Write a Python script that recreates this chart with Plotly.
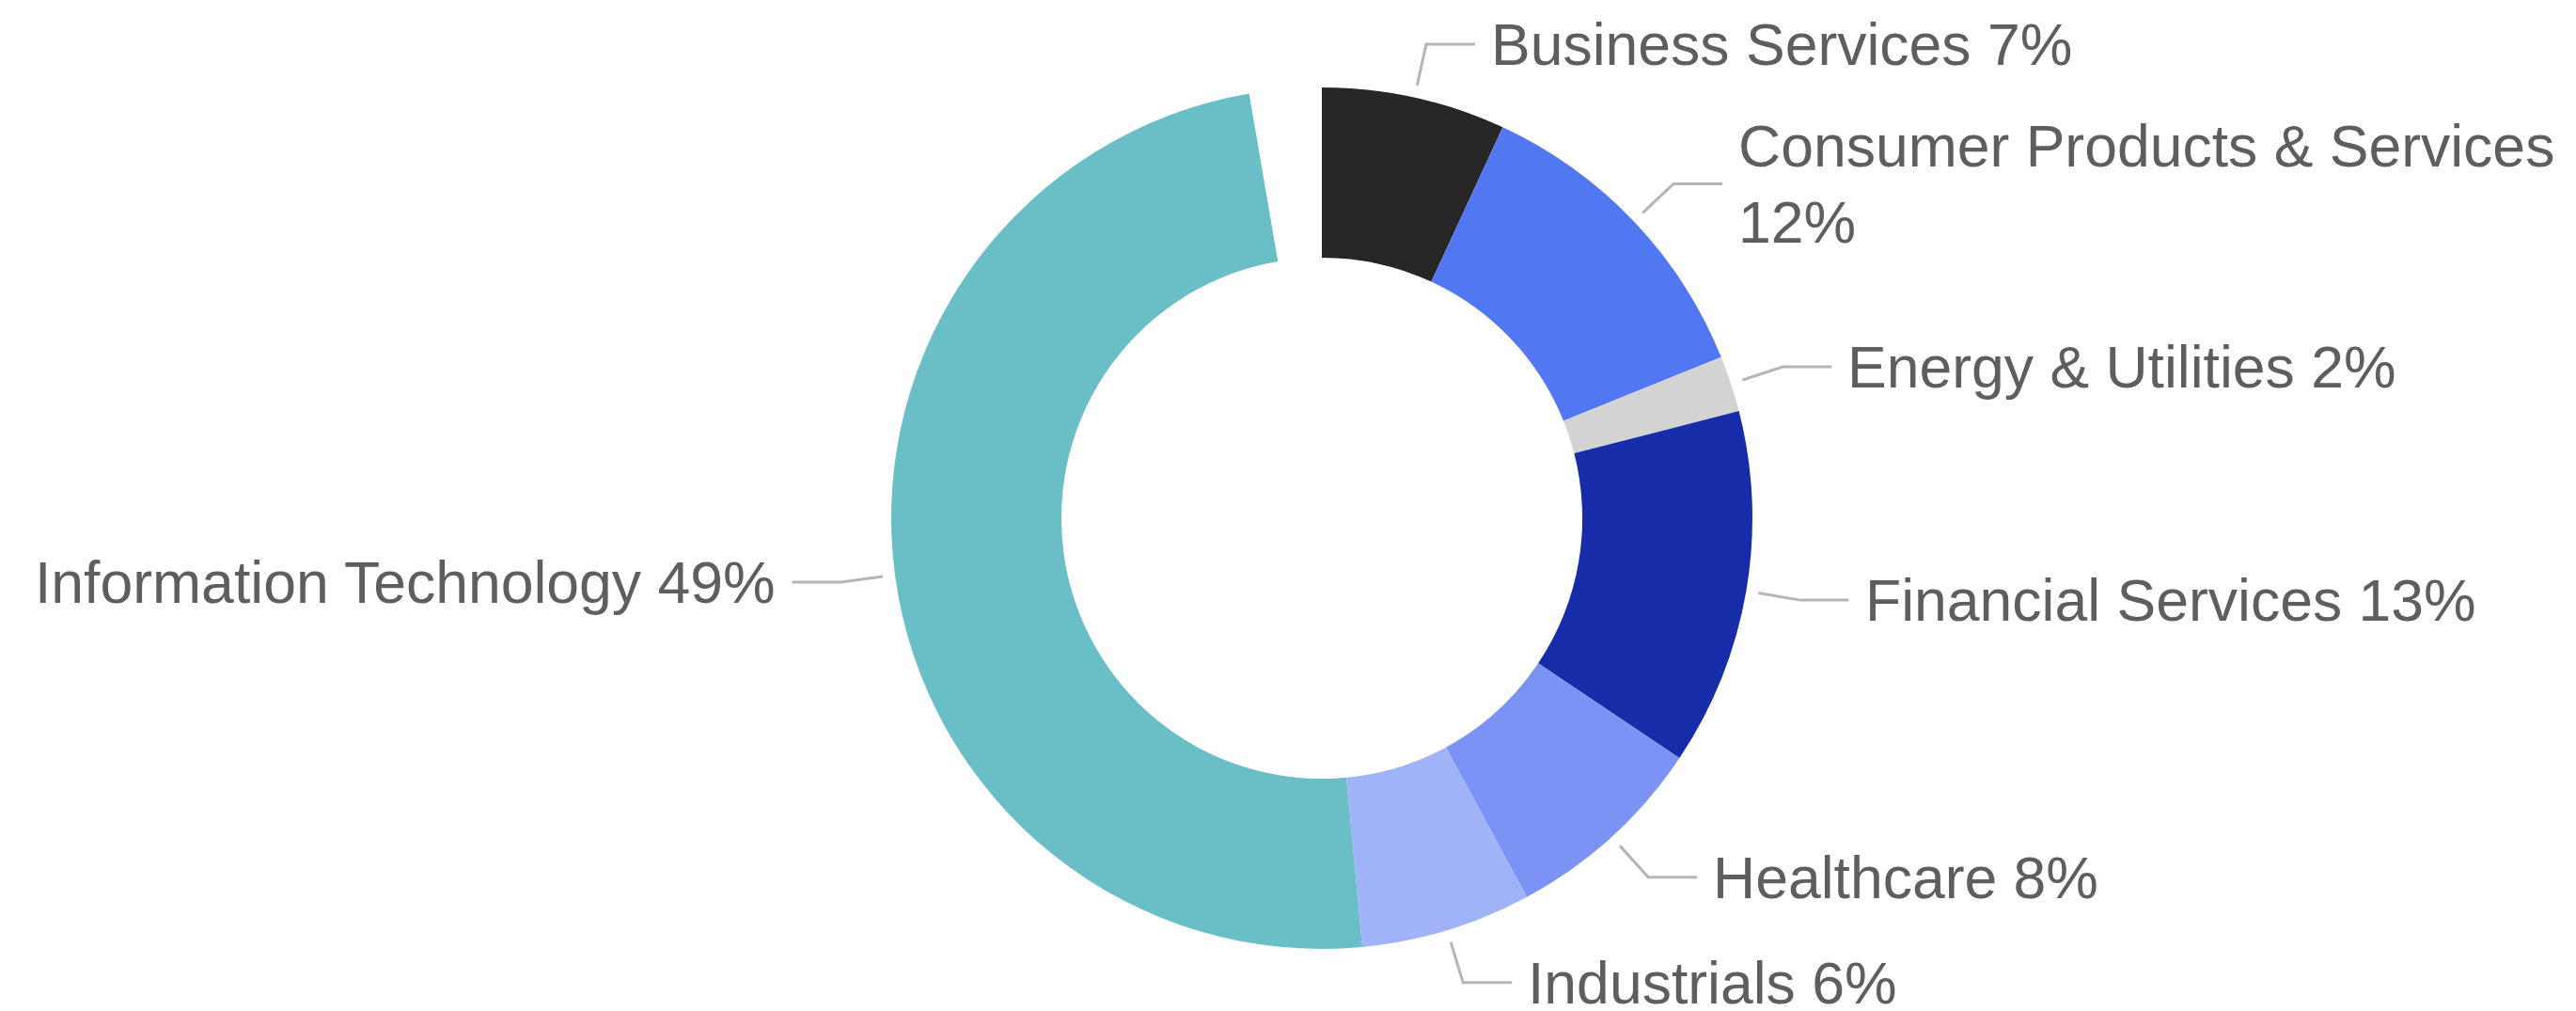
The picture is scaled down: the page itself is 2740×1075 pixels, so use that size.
import math
import plotly.graph_objects as go

# ---------------- data ----------------
categories = [
    "Business Services",
    "Consumer Products & Services",
    "Energy & Utilities",
    "Financial Services",
    "Healthcare",
    "Industrials",
    "Information Technology",
]
shares = [6.9, 12.0, 2.1, 13.4, 7.7, 6.4, 48.8]          # percent of total
colors = ["#262626", "#5277F2", "#D3D3D3", "#162CA8", "#7A93F4", "#A0B3F8", "#6ABFC7"]
wrapped = ["Consumer Products & Services"]              # labels set on two lines
unallocated = round(100 - sum(shares), 1)               # blank gap at the top

# ---------------- layout constants (pixels) ----------------
PAGE_OFFSET = 8               # default body margin of the written page
W, H = 2740 - PAGE_OFFSET, 1075 - PAGE_OFFSET
CX, CY, R = 1406 - PAGE_OFFSET, 551 - PAGE_OFFSET, 458
HOLE = 0.605
R1, R2 = R + 13, R + 58       # leader line: radial segment
H_LEN = 52                    # leader line: horizontal segment
TEXT_GAP = 15
FONT = "Liberation Sans, Arial, Helvetica, sans-serif"
FONT_SIZE = 62.5
TEXT_COLOR = "#5e5e5e"
LINE_COLOR = "#b5b5b5"


def px(x, y):
    return x / W, 1 - y / H


values = shares + [unallocated]
pie_labels = categories + [" "]
pie_colors = colors + ["rgba(0,0,0,0)"]

fig = go.Figure(
    go.Pie(
        labels=pie_labels,
        values=values,
        hole=HOLE,
        sort=False,
        direction="clockwise",
        rotation=0,
        marker=dict(colors=pie_colors, line=dict(width=0)),
        textinfo="none",
        hoverinfo="label+percent",
        showlegend=False,
        domain=dict(
            x=[(CX - R) / W, (CX + R) / W],
            y=[1 - (CY + R) / H, 1 - (CY - R) / H],
        ),
    )
)

total = sum(values)
cum = 0.0
shapes = []
annotations = []
for cat, v in zip(categories, shares):
    mid = (cum + v / 2) / total * 2 * math.pi
    cum += v
    sx, sy = math.sin(mid), -math.cos(mid)
    x1, y1 = CX + R1 * sx, CY + R1 * sy
    x2, y2 = CX + R2 * sx, CY + R2 * sy
    side = 1 if sx >= 0 else -1
    x3 = x2 + side * H_LEN
    p1, p2, p3 = px(x1, y1), px(x2, y2), px(x3, y2)
    shapes.append(dict(
        type="path", xref="paper", yref="paper",
        path=f"M {p1[0]},{p1[1]} L {p2[0]},{p2[1]} L {p3[0]},{p3[1]}",
        line=dict(color=LINE_COLOR, width=3),
    ))
    sep = "<br>" if cat in wrapped else " "
    tx, ty = px(x3 + side * TEXT_GAP, y2)
    annotations.append(dict(
        x=tx, y=ty, xref="paper", yref="paper",
        text=f"{cat}{sep}{round(v)}%",
        showarrow=False,
        xanchor="left" if side > 0 else "right",
        yanchor="middle",
        align="left" if side > 0 else "right",
        font=dict(family=FONT, size=FONT_SIZE, color=TEXT_COLOR),
    ))

fig.update_layout(
    width=W, height=H,
    margin=dict(l=0, r=0, t=0, b=0),
    paper_bgcolor="white",
    plot_bgcolor="white",
    shapes=shapes,
    annotations=annotations,
    showlegend=False,
)

fig.write_html("out.html")
